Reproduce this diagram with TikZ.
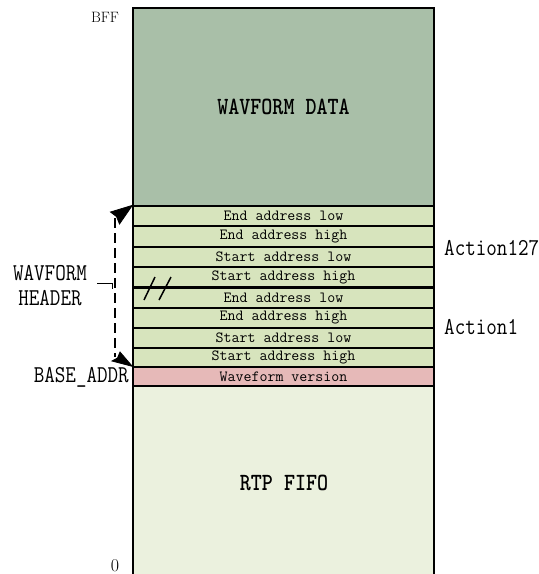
\documentclass[tikz,border=0pt]{standalone}
\definecolor{datagreen}{HTML}{A9BFA8}
\definecolor{rowgreen}{HTML}{D7E4BD}
\definecolor{pinkrow}{HTML}{E6B9B8}
\definecolor{fifogreen}{HTML}{EBF1DE}
\newcommand{\tallt}[1]{\scalebox{1}[1.18]{#1}}
\begin{document}
\begin{tikzpicture}[x=1pt,y=-1pt,
  cell/.style={draw=black, line width=1.3pt, minimum width=301pt, inner sep=0pt, anchor=center},
  rowcell/.style={cell, fill=rowgreen, font=\ttfamily\fontsize{15.5}{15.5}\selectfont},
  lbl/.style={inner sep=0pt, font=\ttfamily\fontsize{20.5}{20.5}\selectfont},
  title/.style={font=\ttfamily\bfseries\fontsize{21}{21}\selectfont},
  headfill/.style={fill=black, draw=black, line width=0.8pt, line join=miter}]
\useasboundingbox (0,0) rectangle (539,574);
\begin{scope}
\clip (0,0) rectangle (539,574);
\node[cell, fill=datagreen, minimum height=198pt] (data) at (283.5,107) {};
\node[title] at (283.5,107) {\tallt{WAVFORM DATA}};
\node[cell, fill=fifogreen, minimum height=200pt] (fifo) at (283.5,486) {};
\node[title] at (284,483) {\tallt{RTP FIFO}};
\end{scope}
\node[rowcell, minimum height=20pt] (r1) at (283.5,216) {End address low};
\node[rowcell, minimum height=21pt] (r2) at (283.5,236.5) {End address high};
\node[rowcell, minimum height=20pt] (r3) at (283.5,257) {Start address low};
\node[rowcell, minimum height=20pt] (r4) at (283.5,277) {Start address high};
\node[rowcell, minimum height=21pt] (r5) at (283.5,297.5) {End address low};
\node[rowcell, minimum height=20pt] (r6) at (283.5,318) {End address high};
\node[rowcell, minimum height=20pt] (r7) at (283.5,338) {Start address low};
\node[rowcell, minimum height=19pt] (r8) at (283.5,357.5) {Start address high};
\node[rowcell, fill=pinkrow, minimum height=19pt] (r9) at (283.5,376.5) {Waveform version};
\draw[line width=2.2pt] (r4.south west) -- (r4.south east);
% labels
\node[inner sep=0pt, font=\fontsize{15}{15}\selectfont] (bff) at (105,17) {BFF};
\node[inner sep=0pt, font=\fontsize{18}{18}\selectfont] (zero) at (115,566) {0};
\node[lbl, anchor=west] (a127) at (444,248) {\tallt{Action127}};
\node[lbl, anchor=west] (a1) at (444,327) {\tallt{Action1}};
\node[lbl] (wf) at (50,273) {\tallt{WAVFORM}};
\node[lbl] (hd) at (50,298) {\tallt{HEADER}};
\node[lbl, anchor=east] (base) at (129,377) {\tallt{BASE\_ADDR}};
% dashed bracket arrow
\coordinate (topc) at (r1.north west);
\coordinate (botc) at (r9.north west);
\coordinate (b1) at (115,218);
\coordinate (b2) at (115,357);
\draw[line width=1.8pt, dash pattern=on 10pt off 5pt] (b1) -- (b2);
\coordinate (w1a) at (110.5,212);
\coordinate (w1b) at (119.5,224);
\coordinate (n1) at (116.5,216.5);
\coordinate (w2a) at (112,361);
\coordinate (w2b) at (120,352);
\coordinate (n2) at (117.5,358);
\path[headfill] (topc) -- (w1a) -- (n1) -- (w1b) -- cycle;
\path[headfill] (botc) -- (w2a) -- (n2) -- (w2b) -- cycle;
\coordinate (lk1) at (97,283);
\coordinate (lk2) at (112,283);
\coordinate (lk3) at (112,289);
\draw[line width=1pt] (lk1) -- (lk2) -- (lk3);
% break marks
\coordinate (s1a) at (144,300);
\coordinate (s1b) at (155,277);
\coordinate (s2a) at (159,300);
\coordinate (s2b) at (171,277);
\draw[line width=1.5pt] (s1a) -- (s1b) (s2a) -- (s2b);
\end{tikzpicture}
\end{document}
